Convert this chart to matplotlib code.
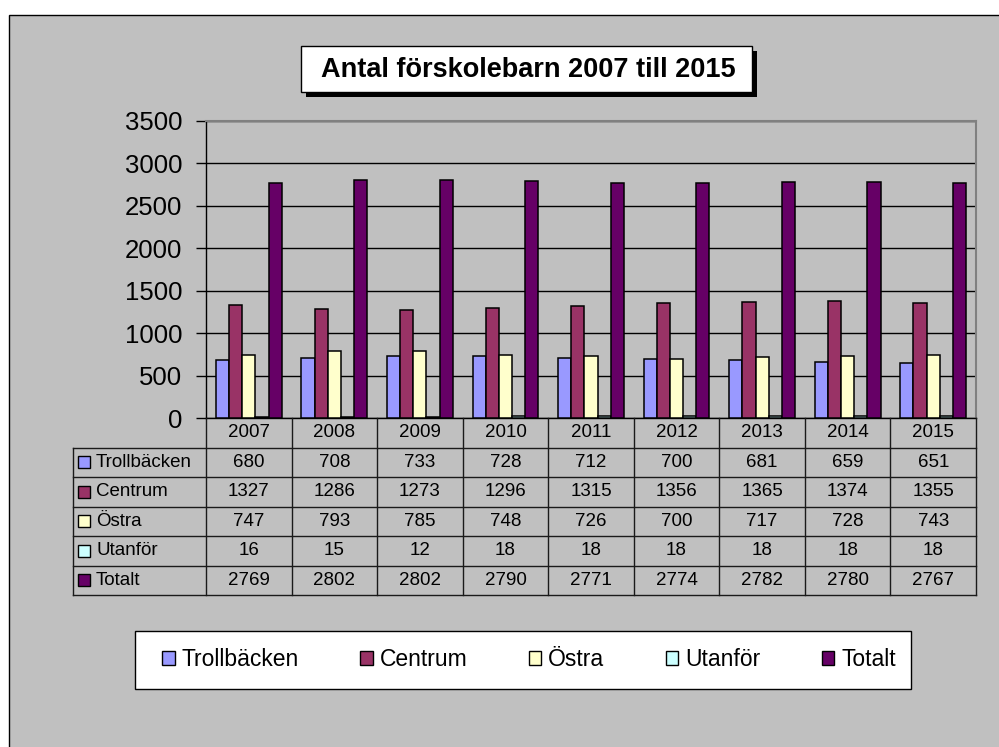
import matplotlib
matplotlib.use("Agg")
import matplotlib.pyplot as plt
from matplotlib.patches import Rectangle, Patch
import numpy as np

plt.rcParams['font.family'] = ['Liberation Sans', 'DejaVu Sans']

# data
years = ['2007', '2008', '2009', '2010', '2011', '2012', '2013', '2014', '2015']
series_names = ['Trollbäcken', 'Centrum', 'Östra', 'Utanför', 'Totalt']
trollbacken = [680, 708, 733, 728, 712, 700, 681, 659, 651]
centrum = [1327, 1286, 1273, 1296, 1315, 1356, 1365, 1374, 1355]
ostra = [747, 793, 785, 748, 726, 700, 717, 728, 743]
utanfor = [16, 15, 12, 18, 18, 18, 18, 18, 18]
totalt = [2769, 2802, 2802, 2790, 2771, 2774, 2782, 2780, 2767]
series_vals = [trollbacken, centrum, ostra, utanfor, totalt]
colors = ['#9999FF', '#993366', '#FFFFCC', '#CCFFFF', '#660066']
title = 'Antal förskolebarn 2007 till 2015'

W, H = 999, 747
BG = '#C0C0C0'


def fx(px):
    return px / W


def fy(py):
    return 1 - py / H


fig = plt.figure(figsize=(W / 100, H / 100), dpi=100, facecolor='white')

# chart area (gray with black border, running off right/bottom edge)
fig.add_artist(Rectangle((fx(9), fy(760)), fx(1010) - fx(9), fy(15) - fy(760),
                         transform=fig.transFigure, facecolor=BG,
                         edgecolor='black', linewidth=1, zorder=0))

# title box with shadow
fig.add_artist(Rectangle((fx(306), fy(97)), fx(757) - fx(306), fy(51) - fy(97),
                         transform=fig.transFigure, facecolor='black',
                         edgecolor='black', linewidth=0, zorder=1))
fig.add_artist(Rectangle((fx(301), fy(92)), fx(752) - fx(301), fy(46) - fy(92),
                         transform=fig.transFigure, facecolor='white',
                         edgecolor='black', linewidth=1, zorder=2))
fig.text(fx(528), fy(70), title, ha='center', va='center',
         fontsize=19.5, fontweight='bold', zorder=3)

# main plot
x0, x1, ytop, ybot = 206, 976, 121, 418
ax = fig.add_axes([fx(x0), fy(ybot), fx(x1) - fx(x0), fy(ytop) - fy(ybot)])
ax.set_facecolor(BG)
x = np.arange(len(years))
bw = 0.154
for k, (vals, col) in enumerate(zip(series_vals, colors)):
    ax.bar(x + (k - 2) * bw, vals, bw, color=col, edgecolor='black',
           linewidth=1.1, zorder=3)
ax.set_xlim(-0.5, len(years) - 0.5)
ax.set_ylim(0, 3500)
ax.set_yticks(range(0, 3501, 500))
ax.yaxis.grid(True, color='black', linewidth=1)
ax.set_axisbelow(True)
ax.set_xticks([])
ax.tick_params(axis='y', length=7, width=1, pad=10, labelsize=18.5)
for s in ['top', 'right']:
    ax.spines[s].set_color('#808080')
    ax.spines[s].set_linewidth(1.5)
for s in ['left', 'bottom']:
    ax.spines[s].set_color('black')
    ax.spines[s].set_linewidth(1)

# data table
tx0 = 73
cw = (x1 - x0) / len(years)
lab_w = (x0 - tx0) / cw
tax = fig.add_axes([fx(tx0), fy(595), fx(x1) - fx(tx0), fy(ybot) - fy(595)])
tax.set_xlim(-0.5 - lab_w, len(years) - 0.5)
tax.set_ylim(6, 0)
tax.axis('off')
lc = '#1a1a1a'
for r in range(1, 7):
    tax.plot([-0.5 - lab_w, len(years) - 0.5], [r, r], color=lc, lw=1,
             clip_on=False)
for c in range(len(years) + 1):
    tax.plot([c - 0.5, c - 0.5], [0, 6], color=lc, lw=1, clip_on=False)
tax.plot([-0.5 - lab_w] * 2, [1, 6], color=lc, lw=1, clip_on=False)

tfs = 13.5
for i, yr in enumerate(years):
    tax.text(i, 0.5, yr, ha='center', va='center', fontsize=tfs)
for r, (name, vals, col) in enumerate(zip(series_names, series_vals, colors)):
    row = r + 1.5
    tax.plot([-0.5 - lab_w + 11 / cw], [row], marker='s', markersize=8,
             markerfacecolor=col, markeredgecolor='black', markeredgewidth=1,
             clip_on=False)
    tax.text(-0.5 - lab_w + 23 / cw, row, name, ha='left', va='center',
             fontsize=tfs)
    for i, v in enumerate(vals):
        tax.text(i, row, str(v), ha='center', va='center', fontsize=tfs)

# legend box + entries
fig.add_artist(Rectangle((fx(135), fy(689)), fx(911) - fx(135), fy(631) - fy(689),
                         transform=fig.transFigure, facecolor='white',
                         edgecolor='black', linewidth=1, zorder=1))
handles = [Patch(facecolor=c, edgecolor='black', linewidth=1) for c in colors]
leg = fig.legend(handles, series_names, ncol=5, loc='center',
                 bbox_to_anchor=(fx(162), fy(680), fx(896) - fx(162), fy(640) - fy(680)),
                 mode='expand', fontsize=16.5, frameon=False,
                 handlelength=0.55, handleheight=0.55, handletextpad=0.3,
                 borderaxespad=0, borderpad=0)
leg.set_zorder(2)

fig.savefig('out.png', dpi=100, facecolor='white')
